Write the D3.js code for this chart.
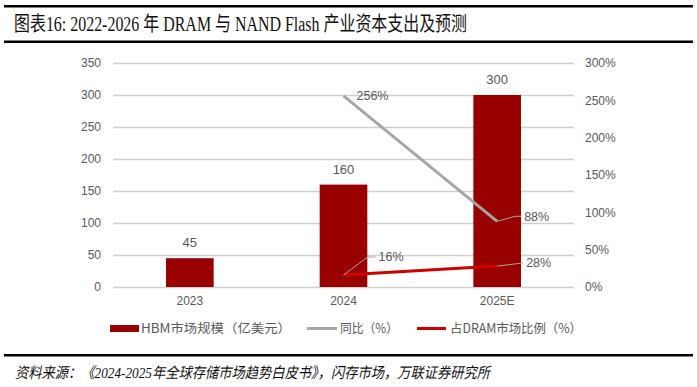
<!DOCTYPE html>
<html>
<head>
<meta charset="utf-8">
<script src="https://cdn.jsdelivr.net/npm/d3@7"></script>
<style>
	body { margin: 0; background: #fff; }
	svg { display: block; }
</style>
</head>
<body>
<div id="wrapper"></div>
<script>
const categories = ["2023", "2024", "2025E"];
const hbmSize = [45, 160, 300];
const yoy = [null, 256, 88];
const dramShare = [null, 16, 28];
const leftTicks = [0, 50, 100, 150, 200, 250, 300, 350];
const rightTicks = [0, 50, 100, 150, 200, 250, 300];

const width = 697;
const height = 387;
const plot = { left: 113, right: 574, top: 63, bottom: 287 };

const svg = d3
	.select("#wrapper")
	.append("svg")
	.attr("width", width)
	.attr("height", height);

const cjkSerif = "'Liberation Serif', 'Noto Sans CJK SC', serif";
const sans = "Arial, 'Liberation Sans', 'Noto Sans CJK SC', sans-serif";

// header rules + title
svg.append("rect").attr("x", 4).attr("y", 5).attr("width", 689).attr("height", 2.5).attr("fill", "#000");
svg.append("rect").attr("x", 4).attr("y", 40.5).attr("width", 689).attr("height", 2.5).attr("fill", "#000");
svg
	.append("text")
	.attr("x", 14)
	.attr("y", 31)
	.attr("font-family", cjkSerif)
	.attr("font-size", 20)
	.attr("fill", "#111")
	.attr("textLength", 453)
	.attr("lengthAdjust", "spacingAndGlyphs")
	.text("图表16:  2022-2026 年 DRAM 与 NAND Flash 产业资本支出及预测");

// scales
const xScale = d3
	.scaleBand()
	.domain(categories)
	.range([plot.left, plot.right])
	.paddingInner(0.69)
	.paddingOuter(0.345);
const yLeft = d3.scaleLinear().domain([0, 350]).range([plot.bottom, plot.top]);
const yRight = d3.scaleLinear().domain([0, 300]).range([plot.bottom, plot.top]);
const cx = (c) => xScale(c) + xScale.bandwidth() / 2;

// gridlines
svg
	.append("g")
	.selectAll("line")
	.data(leftTicks)
	.join("line")
	.attr("x1", plot.left)
	.attr("x2", plot.right)
	.attr("y1", (d) => Math.round(yLeft(d)) + 0.5)
	.attr("y2", (d) => Math.round(yLeft(d)) + 0.5)
	.attr("stroke", "#D0D0D0")
	.attr("stroke-width", 1.3);

// axes
const leftAxis = svg
	.append("g")
	.attr("transform", `translate(${plot.left},0)`)
	.call(d3.axisLeft(yLeft).tickValues(leftTicks).tickSize(0).tickPadding(12));
const rightAxis = svg
	.append("g")
	.attr("transform", `translate(${plot.right},0)`)
	.call(
		d3.axisRight(yRight).tickValues(rightTicks).tickSize(0).tickPadding(11)
			.tickFormat((d) => d + "%")
	);
const xAxis = svg
	.append("g")
	.attr("transform", `translate(0,${plot.bottom})`)
	.call(d3.axisBottom(xScale).tickSize(0).tickPadding(9));
for (const ax of [leftAxis, rightAxis, xAxis]) {
	ax.select(".domain").remove();
	ax.selectAll("text")
		.attr("font-family", sans)
		.attr("font-size", 12)
		.attr("fill", "#595959");
}

// bars
svg
	.append("g")
	.selectAll("rect")
	.data(categories)
	.join("rect")
	.attr("x", (c) => xScale(c))
	.attr("width", xScale.bandwidth())
	.attr("y", (c, i) => yLeft(hbmSize[i]))
	.attr("height", (c, i) => plot.bottom - yLeft(hbmSize[i]))
	.attr("fill", "#990000");

svg
	.append("g")
	.selectAll("text")
	.data(categories)
	.join("text")
	.attr("x", cx)
	.attr("y", (c, i) => yLeft(hbmSize[i]) - 11)
	.attr("text-anchor", "middle")
	.attr("font-family", sans)
	.attr("font-size", 13)
	.attr("fill", "#595959")
	.text((c, i) => hbmSize[i]);

// lines
const lineGen = (vals) =>
	d3
		.line()
		.defined((c, i) => vals[i] !== null)
		.x(cx)
		.y((c, i) => yRight(vals[i]));

svg
	.append("path")
	.attr("d", lineGen(yoy)(categories))
	.attr("fill", "none")
	.attr("stroke", "#A6A6A6")
	.attr("stroke-width", 3);

svg
	.append("path")
	.attr("d", lineGen(dramShare)(categories))
	.attr("fill", "none")
	.attr("stroke", "#D00000")
	.attr("stroke-width", 3);

// line labels: elbow (ex, ey) of the leader and text offset dx, all relative to the point
const lineLabels = [
	{ vals: yoy, i: 1, ex: 0, ey: 0, dx: 13, leader: false },
	{ vals: yoy, i: 2, ex: 18, ey: -5, dx: 27, leader: true },
	{ vals: dramShare, i: 1, ex: 24, ey: -18, dx: 35, leader: true },
	{ vals: dramShare, i: 2, ex: 25, ey: -3, dx: 29, leader: true },
];
lineLabels.forEach(({ vals, i, ex, ey, dx, leader }) => {
	const x0 = cx(categories[i]);
	const y0 = yRight(vals[i]);
	if (leader) {
		svg
			.append("polyline")
			.attr("points", `${x0},${y0} ${x0 + ex},${y0 + ey} ${x0 + dx - 3},${y0 + ey}`)
			.attr("fill", "none")
			.attr("stroke", "#A6A6A6")
			.attr("stroke-width", 1);
	}
	svg
		.append("text")
		.attr("x", x0 + dx)
		.attr("y", y0 + ey)
		.attr("dy", "0.35em")
		.attr("font-family", sans)
		.attr("font-size", 12.5)
		.attr("fill", "#595959")
		.text(vals[i] + "%");
});

// legend
const legend = svg.append("g").attr("font-family", "'Noto Sans CJK SC', sans-serif").attr("font-size", 12.5).attr("fill", "#595959");
legend.append("rect").attr("x", 110).attr("y", 325).attr("width", 29).attr("height", 7).attr("fill", "#990000");
legend.append("text").attr("x", 141).attr("y", 333).attr("textLength", 150).attr("lengthAdjust", "spacingAndGlyphs").text("HBM市场规模（亿美元）");
legend.append("line").attr("x1", 307).attr("x2", 337).attr("y1", 328.5).attr("y2", 328.5).attr("stroke", "#A6A6A6").attr("stroke-width", 3);
legend.append("text").attr("x", 340).attr("y", 333).attr("textLength", 58).attr("lengthAdjust", "spacingAndGlyphs").text("同比（%）");
legend.append("line").attr("x1", 417).attr("x2", 446).attr("y1", 328.5).attr("y2", 328.5).attr("stroke", "#D00000").attr("stroke-width", 3);
legend.append("text").attr("x", 450).attr("y", 333).attr("textLength", 132).attr("lengthAdjust", "spacingAndGlyphs").text("占DRAM市场比例（%）");

// footer
svg.append("rect").attr("x", 4).attr("y", 354).attr("width", 689).attr("height", 2.5).attr("fill", "#000");
svg
	.append("text")
	.attr("x", 15)
	.attr("y", 378)
	.attr("font-family", cjkSerif)
	.attr("font-size", 15)
	.attr("font-style", "italic")
	.attr("fill", "#111")
	.attr("textLength", 475)
	.attr("lengthAdjust", "spacingAndGlyphs")
	.text("资料来源：《2024-2025年全球存储市场趋势白皮书》，闪存市场，万联证券研究所");
</script>
</body>
</html>
